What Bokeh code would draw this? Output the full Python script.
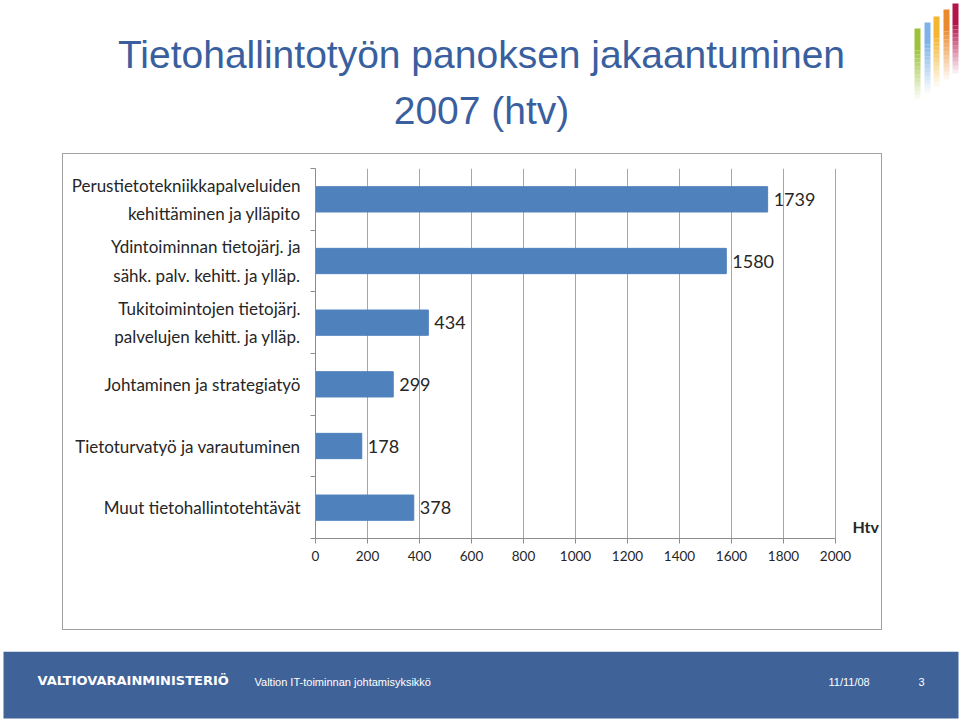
from bokeh.plotting import figure
from bokeh.models import Range1d, FixedTicker, Label, ColumnDataSource, Spacer
from bokeh.layouts import column, row
from bokeh.core.properties import value
from bokeh.embed import file_html
from bokeh.resources import INLINE

# ---- data ----
categories = [
    "Perustietotekniikkapalveluiden\nkehittäminen ja ylläpito",
    "Ydintoiminnan tietojärj. ja\nsähk. palv. kehitt. ja ylläp.",
    "Tukitoimintojen tietojärj.\npalvelujen kehitt. ja ylläp.",
    "Johtaminen ja strategiatyö",
    "Tietoturvatyö ja varautuminen",
    "Muut tietohallintotehtävät",
]
htv_values = [1739, 1580, 434, 299, 178, 378]
x_ticks = [0, 200, 400, 600, 800, 1000, 1200, 1400, 1600, 1800, 2000]
title_lines = ["Tietohallintotyön panoksen jakaantuminen", "2007 (htv)"]
unit_label = "Htv"
footer_org = "VALTIOVARAINMINISTERIÖ"
footer_unit = "Valtion IT-toiminnan johtamisyksikkö"
footer_date = "11/11/08"
footer_page = "3"

BAR = "#4F81BD"
TITLE_C = "#3A5F9E"
FOOT_C = "#3F6299"
TXT = "#262626"
AXIS_C = "#8C8C8C"
GRID_C = "#A6A6A6"

W = 960


def blank(width, height):
    f = figure(width=width, height=height, output_backend="svg", toolbar_location=None,
               title=None, x_range=Range1d(0, width), y_range=Range1d(height, 0),
               min_border=0, x_axis_type=None, y_axis_type=None)
    f.outline_line_color = None
    f.xgrid.visible = False
    f.ygrid.visible = False
    f.background_fill_color = "white"
    f.border_fill_color = "white"
    return f


# ---------------- title area ----------------
TOP_H = 153
top = blank(W, TOP_H)
top.text(x=[481, 481], y=[54, 110], text=title_lines,
         text_font=value("Liberation Sans"), text_font_size="39px",
         text_color=TITLE_C, text_align="center", text_baseline="alphabetic")

# decorative logo: fading coloured bars
logo_l = [914, 924, 933, 943, 952]
logo_r = [920, 930, 939, 949, 958]
logo_t = [28, 22, 16, 9, 3]
logo_c = ["#9DC23A", "#7DB3E8", "#F4B533", "#EB8A2D", "#B3154A"]
for l, r, t, c in zip(logo_l, logo_r, logo_t, logo_c):
    steps = 12
    solid = 22
    top.quad(left=l, right=r, top=t, bottom=t + solid, fill_color=c, line_color=None)
    tops = [t + solid + 4 * k for k in range(steps)]
    bots = [y + 4 for y in tops]
    alphas = [1 - (k + 1) / (steps + 1) for k in range(steps)]
    top.quad(left=l, right=r, top=tops, bottom=bots, fill_color=c,
             fill_alpha=alphas, line_color=None)

# ---------------- chart ----------------
n = len(categories)
ypos = [i + 0.5 for i in range(n)]
src = ColumnDataSource(dict(y=ypos, v=htv_values, lab=[str(v) for v in htv_values]))

BOX_L, BOX_R, BOX_T, BOX_B = 62, 884, 153, 632
FL, FR, FT, FB = 315, 883, 168, 538
px_per_unit = (835 - 315) / 2000.0
x_end = (FR - FL) / px_per_unit
CW, CH = BOX_R - BOX_L - 2, BOX_B - BOX_T - 2

p = figure(width=CW, height=CH, output_backend="svg", toolbar_location=None, title=None,
           x_range=Range1d(0, x_end), y_range=Range1d(n, 0),
           min_border_left=FL - BOX_L - 1, min_border_right=CW - (FR - BOX_L - 1),
           min_border_top=FT - BOX_T - 1, min_border_bottom=CH - (FB - BOX_T - 1),
           styles={"border": "1px solid #A0A0A0"})
p.outline_line_color = None
p.background_fill_color = "white"
p.border_fill_color = "white"

p.hbar(y="y", right="v", left=0, height=0.41, source=src,
       fill_color=BAR, line_color=BAR)
p.text(x="v", y="y", text="lab", source=src, x_offset=6,
       text_font=value("Lato"), text_font_size="18px", text_color=TXT,
       text_baseline="middle", text_align="left")

xa = p.xaxis[0]
xa.ticker = FixedTicker(ticks=x_ticks)
xa.bounds = (0, 2000)
xa.axis_line_color = AXIS_C
xa.major_tick_line_color = AXIS_C
xa.major_tick_out = 5
xa.major_tick_in = 0
xa.minor_tick_line_color = None
xa.major_label_text_font = "Lato"
xa.major_label_text_font_size = "13.5px"
xa.major_label_text_color = TXT
xa.major_label_standoff = 7

ya = p.yaxis[0]
ya.ticker = FixedTicker(ticks=ypos, minor_ticks=list(range(n + 1)))
ya.major_label_overrides = {y: c for y, c in zip(ypos, categories)}
ya.axis_line_color = AXIS_C
ya.major_tick_line_color = None
ya.minor_tick_line_color = AXIS_C
ya.minor_tick_out = 5
ya.minor_tick_in = 0
ya.major_label_text_font = "Lato"
ya.major_label_text_font_size = "17px"
ya.major_label_text_color = TXT
ya.major_label_text_line_height = 1.35
ya.major_label_standoff = 9

p.xgrid.grid_line_color = GRID_C
p.ygrid.grid_line_color = None

p.add_layout(Label(x=852 - FL, y=FB - 526, x_units="screen", y_units="screen", text=unit_label,
                   text_font="Lato", text_font_style="bold", text_font_size="16px",
                   text_color=TXT, text_baseline="middle", text_align="left"))

chart_row = row(Spacer(width=BOX_L, height=CH), p)

# ---------------- footer ----------------
FOOT_TOP = 653
FOOT_H = 724 - FOOT_TOP
foot = blank(W, FOOT_H)
foot.quad(left=3, right=958, top=0, bottom=67, fill_color=FOOT_C, line_color=None)
foot.text(x=[37], y=[29], text=[footer_org], text_font=value("DejaVu Sans"),
          text_font_style="bold", text_font_size="13px", text_color="white",
          text_baseline="middle", text_align="left")
foot.text(x=[254, 828, 918], y=[30, 30, 30], text=[footer_unit, footer_date, footer_page],
          text_font=value("Liberation Sans"), text_font_size="11px",
          text_color="white", text_baseline="middle", text_align="left")

layout = column(top, chart_row, Spacer(width=W, height=FOOT_TOP - BOX_B), foot)

open("out.html", "w").write(file_html(layout, INLINE))
